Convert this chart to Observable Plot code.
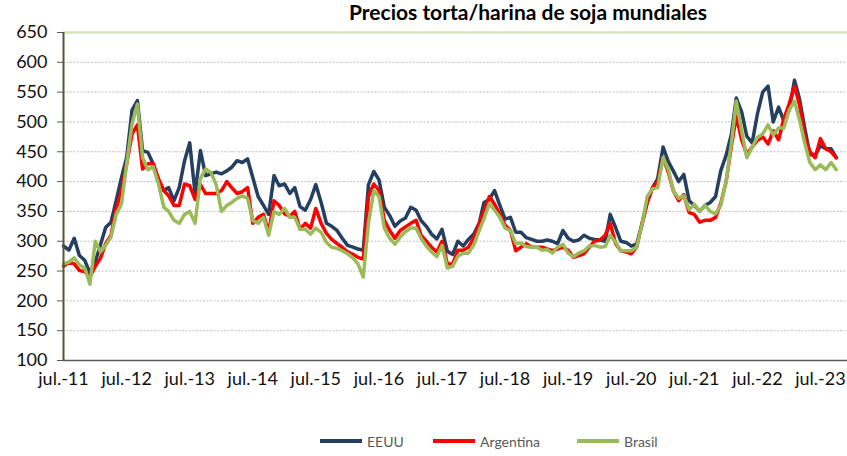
<!DOCTYPE html>
<html><head><meta charset="utf-8">
<script src="https://cdn.jsdelivr.net/npm/d3@7"></script>
<script src="https://cdn.jsdelivr.net/npm/@observablehq/plot@0.6"></script>
<style>
body{margin:0;background:#fff;font-family:Lato,"Liberation Sans",sans-serif;}
#wrap{position:relative;width:847px;height:456px;overflow:hidden;}
#title{position:absolute;top:-1px;left:528px;transform:translateX(-50%);font-weight:bold;font-size:21px;white-space:nowrap;color:#000;}
#chart{position:absolute;top:0;left:0;}
.lg{position:absolute;top:432px;height:18px;display:flex;align-items:center;font-size:14px;color:#595959;}
.sw{display:inline-block;width:42px;height:4px;margin-right:5px;}
</style></head>
<body><div id="wrap">
<div id="chart"></div>
<div id="title">Precios torta/harina de soja mundiales</div>
<div class="lg" style="left:320px"><span class="sw" style="background:#243f60"></span>EEUU</div>
<div class="lg" style="left:433px"><span class="sw" style="background:#ff0000"></span>Argentina</div>
<div class="lg" style="left:577px"><span class="sw" style="background:#9bbb59"></span>Brasil</div>
</div>
<script>
// Monthly observations, starting July 2011
const startMonth = "2011-07-01";
const eeuu = [
292,285,305,276,268,247,265,295,323,332,
368,407,441,520,536,452,449,430,402,385,
390,368,390,435,465,380,452,410,413,416,
413,418,424,435,432,438,407,375,360,345,
410,393,396,380,390,358,352,370,395,365,
330,325,318,305,293,290,287,285,395,417,
403,357,343,325,334,339,357,352,335,325,
312,304,320,283,278,300,292,303,312,330,
365,370,385,360,337,340,315,315,306,303,
300,300,302,300,296,318,305,300,302,310,
305,303,302,300,345,323,300,298,292,295,
328,365,390,405,458,433,418,400,412,368,
360,350,360,365,375,418,444,480,540,517,
476,465,513,550,560,500,525,502,520,570,
540,490,445,445,460,455,455,440];
const argentina = [
258,265,262,251,249,240,258,272,296,310,
355,385,430,480,495,421,430,430,405,385,
376,360,360,396,393,370,395,380,380,380,
385,400,390,380,383,390,330,340,345,315,
368,360,346,342,350,320,330,322,355,330,
313,303,296,290,282,278,273,270,375,396,
385,335,318,305,318,324,330,335,310,300,
290,282,300,262,262,285,285,290,305,329,
350,375,362,345,327,318,284,290,296,290,
290,290,287,284,287,290,285,273,276,279,
290,300,302,310,330,296,284,282,279,290,
330,365,390,400,440,415,385,368,378,348,
345,332,335,335,340,363,400,460,510,470,
446,458,469,475,463,485,470,505,530,560,
530,478,450,440,472,455,450,440];
const brasil = [
262,265,272,260,255,228,300,282,293,307,
345,363,430,497,530,440,420,425,396,357,
350,335,330,345,350,330,405,421,415,395,
350,360,365,372,376,372,335,330,340,310,
350,345,355,340,340,320,320,312,322,315,
298,290,288,284,279,272,262,240,330,385,
375,322,305,295,307,316,322,322,305,292,
282,274,293,255,258,275,280,280,294,318,
338,363,352,340,322,318,296,297,291,290,
290,285,286,280,290,295,280,274,280,284,
292,293,290,291,310,298,284,284,284,290,
328,375,388,390,440,420,385,372,376,353,
362,350,360,350,346,360,400,465,535,485,
440,458,474,480,495,478,490,490,520,535,
505,465,432,420,428,420,432,420];
const seriesNames = ["EEUU","Argentina","Brasil"];
const seriesColors = ["#243f60","#ff0000","#9bbb59"];
const xTickYears = [2011,2012,2013,2014,2015,2016,2017,2018,2019,2020,2021,2022,2023];
const xTickLabels = ["jul.-11","jul.-12","jul.-13","jul.-14","jul.-15","jul.-16","jul.-17","jul.-18","jul.-19","jul.-20","jul.-21","jul.-22","jul.-23"];
const yTicks = [100,150,200,250,300,350,400,450,500,550,600,650];
const xDomainEnd = "2023-12-05";

const t0 = new Date(startMonth);
const rows = [];
[eeuu, argentina, brasil].forEach((arr, s) => {
  arr.forEach((v, i) => rows.push({date: d3.utcMonth.offset(t0, i), value: v, serie: seriesNames[s]}));
});
const xTicks = xTickYears.map(y => new Date(Date.UTC(y, 6, 1)));

const chart = Plot.plot({
  width: 847, height: 400,
  marginTop: 32, marginBottom: 40, marginLeft: 63, marginRight: 0,
  style: {fontFamily: "Lato, 'Liberation Sans', sans-serif", fontSize: "18px", color: "#111", background: "transparent", overflow: "visible"},
  x: {type: "utc", domain: [t0, new Date(xDomainEnd)], label: null},
  y: {domain: [100, 650], label: null},
  color: {domain: seriesNames, range: seriesColors},
  marks: [
    Plot.ruleY(yTicks.filter(d => d > 100 && d < 650), {stroke: "#bfbfbf", strokeDasharray: "2,1.5", strokeWidth: 1}),
    Plot.ruleY([650], {stroke: "#d7e4bd", strokeWidth: 2.5}),
    Plot.axisY({ticks: yTicks, tickSize: 6, tickPadding: 10, stroke: "#595959", fill: "#111", fontSize: 18, label: null}),
    Plot.axisX({ticks: xTicks, tickFormat: (d, i) => xTickLabels[i], tickSize: 0, tickPadding: 12, fill: "#111", fontSize: 18, label: null}),
    Plot.lineY(rows, {x: "date", y: "value", z: "serie", stroke: "serie", strokeWidth: 3.5, strokeLinejoin: "round", strokeLinecap: "round"}),
    Plot.ruleY([100], {stroke: "#595959", strokeWidth: 1.5}),
    Plot.ruleX([t0], {y1: 100, y2: 650, stroke: "#4f5b2e", strokeWidth: 2})
  ]
});
document.getElementById("chart").appendChild(chart);
</script>
</body></html>
